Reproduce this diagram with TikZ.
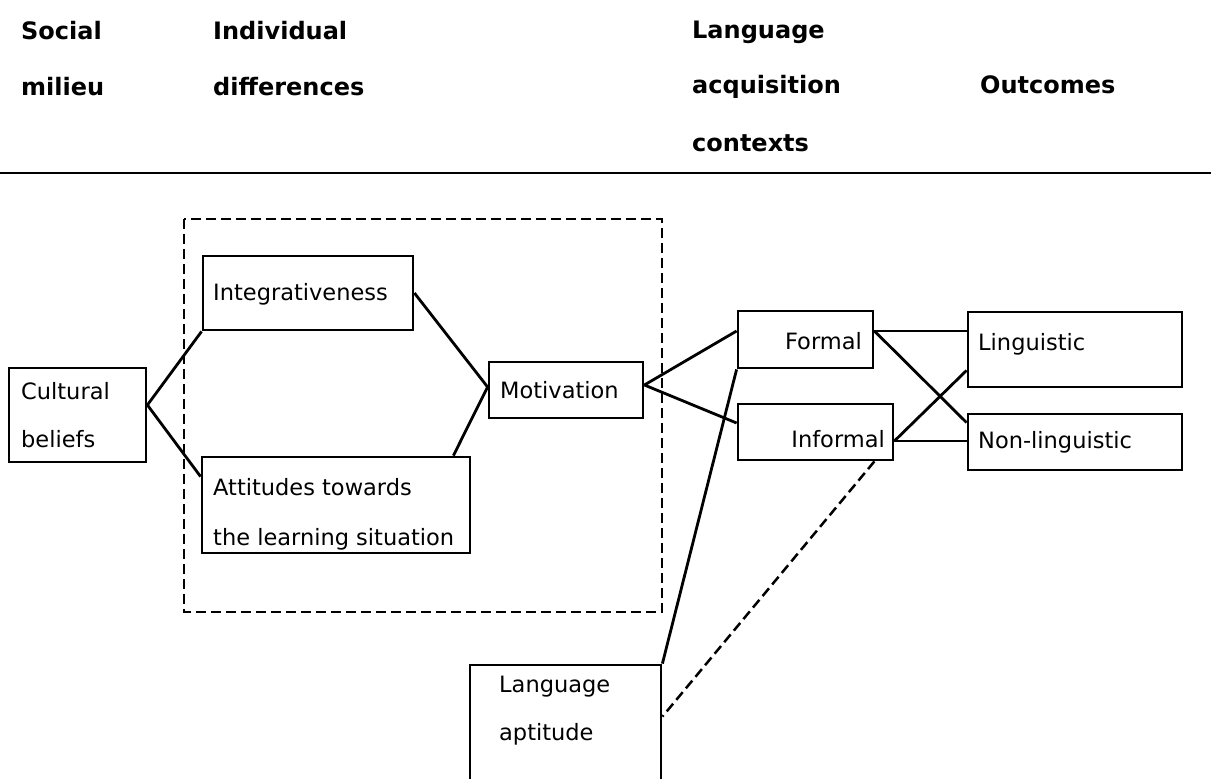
\documentclass[tikz,border=0pt]{standalone}
\usepackage{fontspec}
\setmainfont{DejaVu Sans}
\usetikzlibrary{calc}
\begin{document}
\begin{tikzpicture}[x=1pt,y=-1pt,
  box/.style={draw,line width=2.8pt,rectangle,inner sep=0pt},
  link/.style={line width=2.8pt},
  dlink/.style={line width=2.5pt,dash pattern=on 10pt off 5pt},
  head/.style={anchor=base west,inner sep=0pt,font=\fontsize{24}{28}\selectfont\bfseries},
  lbl/.style={anchor=base west,inner sep=0pt,font=\fontsize{22.5}{27}\selectfont},
  rlbl/.style={lbl,anchor=base east}]
\useasboundingbox (0,0) rectangle (1211,779);
\clip (0,0) rectangle (1211,779);

% column headings
\node[head] (h1a) at (21,39) {Social};
\node[head] (h1b) at (21,95) {milieu};
\node[head] (h2a) at (213,39) {Individual};
\node[head] (h2b) at (213,95) {differences};
\node[head] (h3a) at (692,38) {Language};
\node[head] (h3b) at (692,93) {acquisition};
\node[head] (h3c) at (692,151) {contexts};
\node[head] (h4) at (980,93) {Outcomes};
\draw[line width=2.4pt] (0,173) -- (1211,173);

% individual differences group
\draw[dlink] (184,219) rectangle (662,612);

% boxes
\node[box,minimum width=137pt,minimum height=94pt] (cult) at (77.5,415) {};
\node[box,minimum width=210pt,minimum height=74pt] (integ) at (308,293) {};
\node[box,minimum width=268pt,minimum height=96pt] (att) at (336,505) {};
\node[box,minimum width=154pt,minimum height=56pt] (motiv) at (566,390) {};
\node[box,minimum width=135pt,minimum height=57pt] (formal) at (805.5,339.5) {};
\node[box,minimum width=155pt,minimum height=56pt] (informal) at (815.5,432) {};
\node[box,minimum width=214pt,minimum height=75pt] (ling) at (1075,349.5) {};
\node[box,minimum width=214pt,minimum height=56pt] (nonling) at (1075,442) {};
\node[box,minimum width=191pt,minimum height=135pt] (apt) at (565.5,732.5) {};

% box texts
\node[lbl] (tcult1) at (21,399) {Cultural};
\node[lbl] (tcult2) at (21,447) {beliefs};
\node[lbl] (tinteg) at (213,300) {Integrativeness};
\node[lbl] (tatt1) at (213,495) {Attitudes towards};
\node[lbl] (tatt2) at (213,545) {the learning situation};
\node[lbl] (tmotiv) at (500,398) {Motivation};
\node[rlbl] (tformal) at (862,349) {Formal};
\node[rlbl] (tinformal) at (885,447) {Informal};
\node[lbl] (tling) at (978,350) {Linguistic};
\node[lbl] (tnonling) at (978,448) {Non-linguistic};
\node[lbl] (tapt1) at (499,692) {Language};
\node[lbl] (tapt2) at (499,740) {aptitude};

% connectors
\coordinate (cE) at ([yshift=10pt]cult.east);
\coordinate (mW) at ([yshift=3pt]motiv.west);
\coordinate (mE) at ([yshift=5pt]motiv.east);
\coordinate (fE) at ([yshift=8.5pt]formal.east);
\coordinate (iE) at ([yshift=-9pt]informal.east);
\draw[link] (cE) -- (integ.south west);
\draw[link] (cE) -- ([yshift=-21pt]att.north west);
\draw[link] (integ.east) -- (mW);
\draw[link] ([xshift=-18pt]att.north east) -- (mW);
\draw[link] (mE) -- ([yshift=8.5pt]formal.west);
\draw[link] (mE) -- ([yshift=9pt]informal.west);
\draw[link] (fE) -- ([yshift=18.5pt]ling.west);
\draw[link] (fE) -- ([yshift=-10pt]nonling.north west);
\draw[link] (iE) -- ([yshift=18pt]ling.south west);
\draw[link] (iE) -- (nonling.west |- iE);
\draw[link] (formal.south west) -- (apt.north east);
\draw[dlink] ([xshift=-20pt]informal.south east) -- ([yshift=-53pt]apt.north east);
\end{tikzpicture}
\end{document}
